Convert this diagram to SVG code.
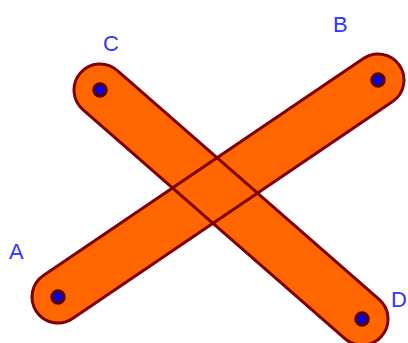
<svg xmlns="http://www.w3.org/2000/svg" xmlns:xlink="http://www.w3.org/1999/xlink" width="408" height="343" viewBox="0 0 408 343">
  <style>
    .bar-fill { fill: #ff6600; stroke: none; }
    .bar-edge { fill: none; stroke: #7f0000; stroke-width: 3; }
    .pt { fill: #0000ff; stroke: #5a0000; stroke-width: 3.5; }
    .lbl { font-family: "Liberation Sans", Arial, sans-serif; font-size: 22px; fill: #3333ff; }
  </style>
  <defs>
    <rect id="barAB" x="-26" y="-26" width="438.6" height="52" rx="26" ry="26" transform="translate(58,297) rotate(-34.14)"/>
    <rect id="barCD" x="-26" y="-26" width="400" height="52" rx="26" ry="26" transform="translate(100,90) rotate(41.16)"/>
  </defs>
  <g id="bars">
    <use xlink:href="#barAB" href="#barAB" class="bar-fill"/>
    <use xlink:href="#barCD" href="#barCD" class="bar-fill"/>
    <use xlink:href="#barAB" href="#barAB" class="bar-edge"/>
    <use xlink:href="#barCD" href="#barCD" class="bar-edge"/>
  </g>
  <g id="A">
    <circle class="pt" cx="58" cy="297" r="6"/>
    <text class="lbl" x="9" y="259">A</text>
  </g>
  <g id="B">
    <circle class="pt" cx="378" cy="80" r="6"/>
    <text class="lbl" x="333" y="32">B</text>
  </g>
  <g id="C">
    <circle class="pt" cx="100" cy="90" r="6"/>
    <text class="lbl" x="103" y="51">C</text>
  </g>
  <g id="D">
    <circle class="pt" cx="362" cy="319" r="6"/>
    <text class="lbl" x="391" y="307">D</text>
  </g>
</svg>
